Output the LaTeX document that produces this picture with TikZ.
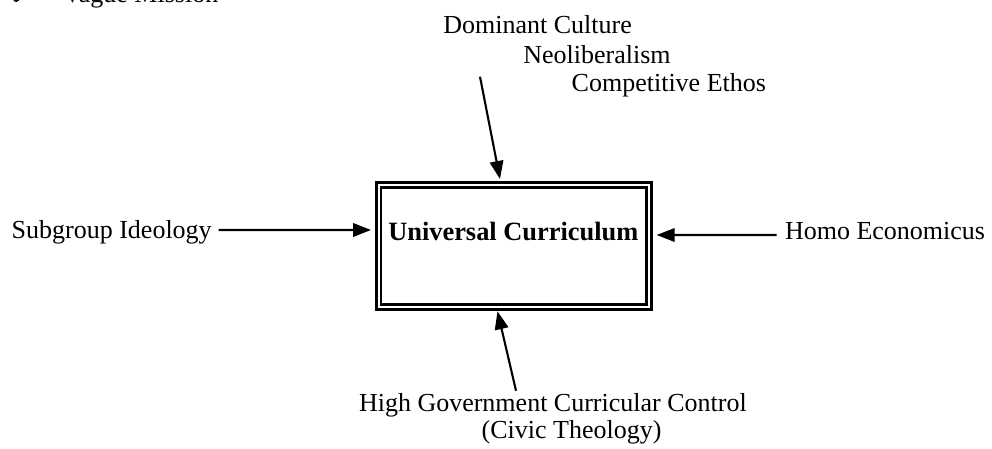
\documentclass[tikz,border=0pt]{standalone}
\usepackage{fontspec}
\setmainfont{Liberation Serif}
\usetikzlibrary{arrows.meta}
\begin{document}
\begin{tikzpicture}[x=1bp,y=-1bp,
  lbl/.style={inner sep=0pt, outer sep=0pt, anchor=base west, font=\fontsize{26bp}{30bp}\selectfont},
  ttl/.style={inner sep=0pt, outer sep=0pt, anchor=base, font=\fontsize{26.4bp}{30bp}\selectfont\bfseries},
  frame/.style={draw, double, line width=2.7bp, double distance=2.1bp, minimum width=270.4bp, minimum height=121.8bp, inner sep=0pt, outer sep=0pt},
  arr/.style={line width=2.1bp, -{Triangle[length=18bp,width=13.5bp]}},
  dot/.style={circle, fill, inner sep=0pt, minimum size=6.6bp}
]
\useasboundingbox (0,0) rectangle (992,449);
\clip (0,0) rectangle (992,449);
% cut-off list item at the top
\node[dot] (bul) at (16.2,-1.3) {};
\node[lbl] (vague) at (63,3) {Vague Mission};
% central box
\node[frame] (uc) at (513.8,245.9) {};
\node[ttl] (uct) at (513.3,240.7) {Universal Curriculum};
% labels
\node[lbl] (dom) at (443.3,33.3) {Dominant Culture};
\node[lbl] (neo) at (523.3,63.3) {Neoliberalism};
\node[lbl] (comp) at (571.7,91.7) {Competitive Ethos};
\node[lbl] (sub) at (11.7,239) {Subgroup Ideology};
\node[lbl] (homo) at (785,239.5) {Homo Economicus};
\node[lbl] (gov) at (359,411.7) {High Government Curricular Control};
\node[lbl] (civ) at (481.7,438) {(Civic Theology)};
% connectors
\coordinate (dtail) at (480,76.7);
\coordinate (gtail) at (516,390.7);
\draw[arr] ([xshift=7bp,yshift=9bp]sub.base east) -- ([xshift=-7.6bp,yshift=15.9bp]uc.west);
\draw[arr] ([xshift=-8.3bp,yshift=4.5bp]homo.base west) -- ([xshift=7.7bp,yshift=10.9bp]uc.east);
\draw[arr] (dtail) -- ([xshift=-13.8bp,yshift=6bp]uc.north);
\draw[arr] (gtail) -- ([xshift=-16.3bp,yshift=-4.5bp]uc.south);
\end{tikzpicture}
\end{document}
